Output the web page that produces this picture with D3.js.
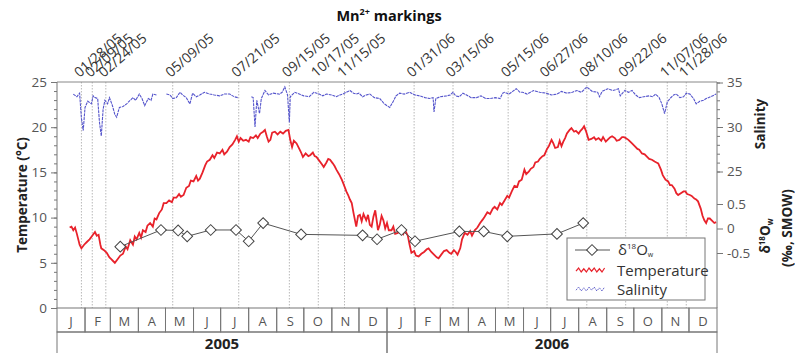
<!DOCTYPE html>
<html><head><meta charset="utf-8">
<script src="https://cdn.jsdelivr.net/npm/d3@7"></script>
<style>body{margin:0;background:#fff} text{font-family:"Open Sans",sans-serif}</style>
</head><body><svg id="c" width="795" height="353"></svg>
<script>
const months = ["J","F","M","A","M","J","J","A","S","O","N","D"];
const years = ["2005","2006"];
const tempTicks = [0,5,10,15,20,25];
const salTicks = [25,30,35];
const d18Ticks = [-0.5,0,0.5];
const markDates = ["2005-01-28","2005-02-09","2005-02-24","2005-05-09","2005-07-21","2005-09-15","2005-10-17","2005-11-15","2006-01-31","2006-03-15","2006-05-15","2006-06-27","2006-08-10","2006-09-22","2006-11-07","2006-11-28"];
const markLabels = ["01/28/05","02/09/05","02/24/05","05/09/05","07/21/05","09/15/05","10/17/05","11/15/05","01/31/06","03/15/06","05/15/06","06/27/06","08/10/06","09/22/06","11/07/06","11/28/06"];
const d18O = [["2005-03-12",-0.37],["2005-04-26",-0.03],["2005-05-15",-0.04],["2005-05-25",-0.16],["2005-06-20",-0.03],["2005-07-18",-0.03],["2005-08-01",-0.26],["2005-08-17",0.11],["2005-09-28",-0.12],["2005-12-05",-0.14],["2005-12-21",-0.22],["2006-01-17",-0.03],["2006-02-01",-0.26],["2006-03-22",-0.06],["2006-04-18",-0.06],["2006-05-14",-0.16],["2006-07-08",-0.11],["2006-08-06",0.11]];
const temperature = [
["2005-01-15",8.9],["2005-01-17",9.0],["2005-01-19",8.6],["2005-01-21",8.9],["2005-01-23",8.2],["2005-01-26",7.0],["2005-01-28",6.6],["2005-01-31",7.0],
["2005-02-03",7.3],["2005-02-06",7.6],["2005-02-09",8.0],["2005-02-12",8.4],["2005-02-14",8.0],["2005-02-16",8.1],["2005-02-18",7.0],["2005-02-19",6.6],["2005-02-22",6.4],["2005-02-25",6.1],["2005-02-28",5.6],
["2005-03-02",5.4],["2005-03-04",5.2],["2005-03-06",5.0],["2005-03-09",5.4],["2005-03-12",5.8],["2005-03-15",6.0],["2005-03-18",6.8],["2005-03-20",6.5],["2005-03-23",7.5],["2005-03-26",7.0],["2005-03-28",7.9],["2005-03-30",7.6],
["2005-04-02",8.3],["2005-04-04",7.8],["2005-04-06",8.6],["2005-04-09",8.4],["2005-04-11",9.1],["2005-04-14",9.4],["2005-04-17",9.0],["2005-04-19",9.9],["2005-04-21",9.8],["2005-04-24",10.5],["2005-04-27",10.9],["2005-04-29",11.6],
["2005-05-02",11.6],["2005-05-05",11.9],["2005-05-08",11.7],["2005-05-10",12.2],["2005-05-13",12.2],["2005-05-16",12.6],["2005-05-18",12.3],["2005-05-21",12.5],["2005-05-24",13.3],["2005-05-27",13.5],["2005-05-29",14.1],
["2005-06-01",14.0],["2005-06-04",14.6],["2005-06-06",14.1],["2005-06-08",14.3],["2005-06-11",15.0],["2005-06-14",15.8],["2005-06-16",16.2],["2005-06-19",16.4],["2005-06-22",16.9],["2005-06-24",16.6],["2005-06-27",17.2],["2005-06-30",17.1],
["2005-07-03",17.5],["2005-07-05",17.0],["2005-07-08",17.3],["2005-07-11",17.8],["2005-07-14",18.1],["2005-07-17",18.6],["2005-07-19",19.0],["2005-07-21",18.4],["2005-07-23",18.8],["2005-07-26",18.5],["2005-07-29",18.6],
["2005-08-01",18.4],["2005-08-03",18.9],["2005-08-06",18.8],["2005-08-09",19.1],["2005-08-11",18.8],["2005-08-14",19.3],["2005-08-17",19.5],["2005-08-19",19.7],["2005-08-21",19.0],["2005-08-23",18.4],["2005-08-25",18.6],["2005-08-27",19.4],["2005-08-30",19.5],
["2005-09-02",19.2],["2005-09-05",19.5],["2005-09-08",19.3],["2005-09-11",19.6],["2005-09-14",19.7],["2005-09-16",18.6],["2005-09-18",17.8],["2005-09-20",18.5],["2005-09-23",18.2],["2005-09-26",17.6],["2005-09-28",17.2],["2005-09-30",16.7],
["2005-10-03",17.1],["2005-10-06",16.8],["2005-10-08",16.9],["2005-10-11",17.2],["2005-10-13",16.8],["2005-10-15",16.7],["2005-10-18",16.3],["2005-10-21",15.9],["2005-10-23",15.6],["2005-10-26",16.1],["2005-10-28",16.5],["2005-10-30",16.4],
["2005-11-02",16.0],["2005-11-04",15.7],["2005-11-06",15.3],["2005-11-09",14.8],["2005-11-12",14.2],["2005-11-14",13.7],["2005-11-17",12.9],["2005-11-19",12.5],["2005-11-21",12.0],["2005-11-23",11.6],["2005-11-25",10.5],["2005-11-28",9.0],["2005-11-30",10.2],
["2005-12-02",10.3],["2005-12-04",9.6],["2005-12-06",10.4],["2005-12-09",9.7],["2005-12-11",10.3],["2005-12-13",9.2],["2005-12-15",9.0],["2005-12-17",10.1],["2005-12-19",10.8],["2005-12-21",9.4],["2005-12-22",8.6],["2005-12-24",9.2],["2005-12-26",10.2],["2005-12-28",9.7],["2005-12-30",8.8],
["2006-01-01",9.4],["2006-01-03",8.6],["2006-01-06",8.6],["2006-01-08",9.0],["2006-01-10",8.2],["2006-01-13",8.3],["2006-01-16",8.8],["2006-01-19",8.2],["2006-01-21",8.6],["2006-01-24",8.0],["2006-01-26",7.0],["2006-01-28",6.1],["2006-01-31",6.3],
["2006-02-02",5.8],["2006-02-05",5.7],["2006-02-08",6.0],["2006-02-11",6.2],["2006-02-14",6.5],["2006-02-16",6.6],["2006-02-19",6.2],["2006-02-22",5.9],["2006-02-25",5.6],["2006-02-27",5.5],
["2006-03-02",5.9],["2006-03-05",6.3],["2006-03-08",6.4],["2006-03-11",6.1],["2006-03-13",6.0],["2006-03-16",6.4],["2006-03-18",6.2],["2006-03-20",5.9],["2006-03-23",6.6],["2006-03-25",7.6],["2006-03-28",8.3],["2006-03-31",8.1],
["2006-04-03",8.5],["2006-04-05",8.0],["2006-04-08",8.6],["2006-04-11",8.9],["2006-04-14",9.4],["2006-04-17",9.8],["2006-04-19",10.1],["2006-04-22",10.6],["2006-04-25",10.4],["2006-04-28",11.0],["2006-04-30",11.2],
["2006-05-03",10.9],["2006-05-06",11.6],["2006-05-08",11.4],["2006-05-11",11.9],["2006-05-14",12.4],["2006-05-16",12.2],["2006-05-19",12.9],["2006-05-22",13.5],["2006-05-25",13.4],["2006-05-27",14.0],["2006-05-30",14.2],
["2006-06-02",15.3],["2006-06-04",14.8],["2006-06-07",15.1],["2006-06-09",15.4],["2006-06-12",15.6],["2006-06-14",16.1],["2006-06-17",16.2],["2006-06-19",16.5],["2006-06-22",16.8],["2006-06-24",16.9],["2006-06-27",17.6],["2006-06-29",17.9],
["2006-07-02",18.6],["2006-07-04",18.2],["2006-07-06",17.7],["2006-07-09",17.8],["2006-07-11",18.5],["2006-07-13",17.9],["2006-07-15",18.4],["2006-07-17",18.8],["2006-07-19",19.3],["2006-07-22",19.7],["2006-07-24",19.9],["2006-07-27",19.5],["2006-07-29",19.6],
["2006-08-01",19.3],["2006-08-03",19.6],["2006-08-05",19.8],["2006-08-07",20.1],["2006-08-09",19.6],["2006-08-12",18.6],["2006-08-15",18.7],["2006-08-18",18.9],["2006-08-20",18.6],["2006-08-23",18.8],["2006-08-26",18.5],["2006-08-28",18.9],["2006-08-31",18.4],
["2006-09-03",18.7],["2006-09-05",18.9],["2006-09-07",19.0],["2006-09-10",18.8],["2006-09-12",18.5],["2006-09-15",18.6],["2006-09-18",18.9],["2006-09-20",18.9],["2006-09-22",18.8],["2006-09-25",18.6],["2006-09-27",18.4],["2006-09-29",18.2],
["2006-10-02",17.9],["2006-10-05",17.6],["2006-10-07",17.5],["2006-10-10",17.1],["2006-10-13",17.0],["2006-10-16",16.7],["2006-10-18",16.5],["2006-10-21",16.4],["2006-10-24",16.2],["2006-10-26",16.1],["2006-10-28",16.0],["2006-10-31",15.3],
["2006-11-02",14.7],["2006-11-05",14.2],["2006-11-08",14.0],["2006-11-10",13.6],["2006-11-12",13.6],["2006-11-15",13.2],["2006-11-17",12.7],["2006-11-19",12.5],["2006-11-22",12.7],["2006-11-25",12.9],["2006-11-27",12.9],["2006-11-29",12.6],
["2006-12-02",12.5],["2006-12-04",12.4],["2006-12-07",12.1],["2006-12-09",12.0],["2006-12-11",11.8],["2006-12-14",11.0],["2006-12-16",10.2],["2006-12-18",9.7],["2006-12-20",9.4],["2006-12-22",9.9],["2006-12-24",9.9],["2006-12-27",9.6],["2006-12-29",9.4],["2006-12-31",9.5]];
const salinity = [
["2005-01-19",33.7],["2005-01-23",33.4],["2005-01-26",33.8],["2005-01-28",31.0],["2005-01-30",29.6],["2005-02-01",32.2],["2005-02-04",32.9],["2005-02-08",32.6],["2005-02-10",33.5],["2005-02-12",33.3],["2005-02-15",33.2],["2005-02-17",30.5],["2005-02-19",29.0],["2005-02-21",32.0],["2005-02-23",33.0],["2005-02-26",32.6],["2005-02-28",33.3],
["2005-03-03",32.5],["2005-03-06",31.4],["2005-03-08",31.1],["2005-03-11",32.2],["2005-03-15",32.3],["2005-03-19",32.6],["2005-03-22",32.9],["2005-03-26",33.3],["2005-03-29",33.0],["2005-04-02",33.7],["2005-04-05",33.2],["2005-04-08",32.4],["2005-04-12",33.2],["2005-04-15",33.0],["2005-04-17",33.7],["2005-04-21",33.6],["2005-04-26",null],
["2005-05-02",33.7],["2005-05-06",33.6],["2005-05-09",33.2],["2005-05-13",33.3],["2005-05-17",33.9],["2005-05-20",33.6],["2005-05-24",33.3],["2005-05-28",32.6],["2005-05-31",33.8],["2005-06-04",33.4],["2005-06-08",33.6],["2005-06-13",33.9],["2005-06-19",33.7],["2005-06-24",33.6],["2005-06-30",33.5],["2005-07-05",33.7],["2005-07-11",33.7],["2005-07-16",33.4],["2005-07-20",33.3],["2005-07-27",null],
["2005-08-04",33.4],["2005-08-06",33.3],["2005-08-08",30.0],["2005-08-10",33.0],["2005-08-13",31.5],["2005-08-15",33.2],["2005-08-19",34.1],["2005-08-23",33.6],["2005-08-28",33.8],["2005-09-04",33.7],["2005-09-07",33.9],["2005-09-10",34.5],["2005-09-13",33.6],["2005-09-15",30.5],["2005-09-16",33.4],["2005-09-21",33.9],["2005-09-26",33.7],
["2005-10-01",33.5],["2005-10-07",33.4],["2005-10-12",33.9],["2005-10-18",33.7],["2005-10-22",33.5],["2005-10-26",33.7],["2005-11-01",33.6],["2005-11-06",33.4],["2005-11-10",33.6],["2005-11-13",33.7],["2005-11-17",33.9],["2005-11-21",34.1],["2005-11-25",33.8],["2005-11-28",33.7],["2005-12-01",33.8],["2005-12-05",33.4],["2005-12-09",33.6],["2005-12-13",33.7],["2005-12-18",33.3],["2005-12-24",33.2],["2005-12-29",32.6],
["2006-01-04",32.2],["2006-01-08",32.9],["2006-01-11",33.5],["2006-01-15",33.8],["2006-01-20",33.7],["2006-01-26",33.9],["2006-02-01",33.6],["2006-02-06",33.5],["2006-02-12",33.3],["2006-02-17",33.2],["2006-02-21",33.3],["2006-02-22",31.7],["2006-02-24",33.2],["2006-03-01",33.4],["2006-03-08",33.5],["2006-03-12",33.6],["2006-03-15",33.9],["2006-03-18",33.5],["2006-03-22",33.4],["2006-03-26",33.8],["2006-03-30",33.6],
["2006-04-04",33.3],["2006-04-10",33.3],["2006-04-15",33.5],["2006-04-20",33.2],["2006-04-25",33.2],["2006-05-01",33.3],["2006-05-06",33.2],["2006-05-09",33.8],["2006-05-11",33.9],["2006-05-16",33.7],["2006-05-20",34.0],["2006-05-24",34.3],["2006-05-28",33.9],["2006-05-31",33.9],["2006-06-05",33.7],["2006-06-12",34.1],["2006-06-19",33.9],["2006-06-26",33.8],
["2006-07-02",33.6],["2006-07-08",33.7],["2006-07-13",34.0],["2006-07-19",33.8],["2006-07-25",33.9],["2006-07-30",34.1],["2006-08-04",33.9],["2006-08-10",34.5],["2006-08-16",34.0],["2006-08-22",33.9],["2006-08-24",33.4],["2006-08-27",34.0],["2006-09-02",34.3],["2006-09-08",34.1],["2006-09-14",34.3],["2006-09-16",33.5],["2006-09-21",34.1],["2006-09-25",33.9],["2006-09-29",34.1],
["2006-10-03",33.6],["2006-10-07",33.3],["2006-10-12",33.4],["2006-10-18",33.5],["2006-10-22",33.4],["2006-10-25",33.7],["2006-10-29",33.3],["2006-11-01",32.6],["2006-11-04",31.5],["2006-11-07",32.8],["2006-11-10",33.2],["2006-11-14",33.6],["2006-11-17",33.7],["2006-11-21",33.3],["2006-11-25",33.4],["2006-11-28",33.8],
["2006-12-02",33.7],["2006-12-06",33.2],["2006-12-09",32.6],["2006-12-13",32.9],["2006-12-17",33.0],["2006-12-20",33.2],["2006-12-25",33.4],["2006-12-31",33.7]];

const W = 795, H = 353, L = 57, R = 717, T = 82, B = 308;
const parse = d3.timeParse("%Y-%m-%d");
const svg = d3.select("#c");
const x = d3.scaleTime().domain([new Date(2005,0,1), new Date(2007,0,1)]).range([L, R]);
const yT = d3.scaleLinear().domain([0,25]).range([B, T]);
const yS = d3.scaleLinear().domain([25,35]).range([171.5, 82.5]);
const yD = d3.scaleLinear().domain([-0.5,0.5]).range([253, 204]);

// marking lines
svg.append("g").selectAll("line").data(markDates).join("line")
  .attr("x1", d => x(parse(d))).attr("x2", d => x(parse(d)))
  .attr("y1", T).attr("y2", B)
  .attr("stroke", "#b8b8b8").attr("stroke-width", 1).attr("stroke-dasharray", "1.5,1.5");
svg.append("g").selectAll("text").data(markDates).join("text")
  .attr("transform", d => `translate(${x(parse(d)) - 2},78) rotate(-41)`)
  .attr("font-size", 14).attr("fill", "#333")
  .text((d, i) => markLabels[i]);

// title
const title = svg.append("text").attr("x", 389).attr("y", 21).attr("text-anchor", "middle")
  .attr("font-size", 14.5).attr("font-weight", "bold").attr("fill", "#111");
title.append("tspan").text("Mn");
title.append("tspan").attr("dy", -6).attr("font-size", 9).text("2+");
title.append("tspan").attr("dy", 6).text(" markings");

// frame
svg.append("line").attr("x1", L).attr("x2", R).attr("y1", T).attr("y2", T).attr("stroke", "#888");
svg.append("line").attr("x1", L).attr("x2", L).attr("y1", T).attr("y2", B).attr("stroke", "#777");
svg.append("line").attr("x1", R).attr("x2", R).attr("y1", T).attr("y2", B).attr("stroke", "#777");

function styleAxis(g) {
  g.select(".domain").remove();
  g.selectAll(".tick line").attr("stroke", "#777");
  g.selectAll(".tick text").attr("fill", "#555").attr("font-size", 13.5).attr("font-family", "Open Sans");
}
svg.append("g").attr("transform", `translate(${L},0)`)
  .call(d3.axisLeft(yT).tickValues(d3.range(0, 26)).tickSize(3).tickFormat("")).call(styleAxis);
svg.append("g").attr("transform", `translate(${L},0)`)
  .call(d3.axisLeft(yT).tickValues(tempTicks).tickSize(6).tickPadding(4)).call(styleAxis);
svg.append("g").attr("transform", `translate(${R},0)`)
  .call(d3.axisRight(yS).tickValues(d3.range(25, 36)).tickSize(3).tickFormat("")).call(styleAxis);
svg.append("g").attr("transform", `translate(${R},0)`)
  .call(d3.axisRight(yS).tickValues(salTicks).tickSize(6).tickPadding(4)).call(styleAxis);
svg.append("g").attr("transform", `translate(${R},0)`)
  .call(d3.axisRight(yD).tickValues(d18Ticks).tickSize(6).tickPadding(4).tickFormat(d => d < 0 ? "-" + Math.abs(d) : String(d))).call(styleAxis);

// month / year table
const monthStarts = d3.timeMonths(new Date(2005,0,1), new Date(2007,0,1));
const mg = svg.append("g");
mg.selectAll("rect").data(monthStarts).join("rect")
  .attr("x", d => x(d)).attr("width", d => x(d3.timeMonth.offset(d, 1)) - x(d))
  .attr("y", B).attr("height", 24).attr("fill", "none").attr("stroke", "#777");
mg.selectAll("text").data(monthStarts).join("text")
  .attr("x", d => (x(d) + x(d3.timeMonth.offset(d, 1))) / 2).attr("y", B + 18)
  .attr("text-anchor", "middle").attr("font-size", 13).attr("fill", "#555")
  .text(d => months[d.getMonth()]);
const yearStarts = years.map(y => new Date(+y, 0, 1));
const yg = svg.append("g");
yg.selectAll("rect").data(yearStarts).join("rect")
  .attr("x", d => x(d)).attr("width", d => x(d3.timeYear.offset(d, 1)) - x(d))
  .attr("y", B + 24).attr("height", 30).attr("fill", "none").attr("stroke", "#777");
yg.selectAll("text").data(yearStarts).join("text")
  .attr("x", d => (x(d) + x(d3.timeYear.offset(d, 1))) / 2).attr("y", B + 41)
  .attr("text-anchor", "middle").attr("font-size", 15).attr("font-weight", "bold").attr("fill", "#222")
  .text((d, i) => years[i]);

// series
svg.append("path").datum(salinity)
  .attr("d", d3.line().defined(d => d[1] != null).x(d => x(parse(d[0]))).y(d => yS(d[1])))
  .attr("fill", "none").attr("stroke", "#5555cc").attr("stroke-width", 1.1).attr("stroke-dasharray", "3,0.8");
svg.append("path").datum(temperature)
  .attr("d", d3.line().x(d => x(parse(d[0]))).y(d => yT(d[1])))
  .attr("fill", "none").attr("stroke", "#e8222b").attr("stroke-width", 1.8);
svg.append("path").datum(d18O)
  .attr("d", d3.line().x(d => x(parse(d[0]))).y(d => yD(d[1])))
  .attr("fill", "none").attr("stroke", "#555").attr("stroke-width", 1);
const diamond = d3.symbol().type(d3.symbolSquare).size(58);
svg.append("g").selectAll("path").data(d18O).join("path")
  .attr("d", diamond)
  .attr("transform", d => `translate(${x(parse(d[0]))},${yD(d[1])}) rotate(45)`)
  .attr("fill", "#fff").attr("stroke", "#444").attr("stroke-width", 1);

// axis titles
svg.append("text").attr("transform", "translate(27,195) rotate(-90)").attr("text-anchor", "middle")
  .attr("font-size", 13.5).attr("font-weight", "bold").attr("fill", "#222").text("Temperature (°C)");
svg.append("text").attr("transform", "translate(765,124) rotate(-90)").attr("text-anchor", "middle")
  .attr("font-size", 13.5).attr("font-weight", "bold").attr("fill", "#222").text("Salinity");
const dl = svg.append("text").attr("transform", "translate(770,236) rotate(-90)").attr("text-anchor", "middle")
  .attr("font-size", 13.5).attr("font-weight", "bold").attr("fill", "#222");
dl.append("tspan").text("δ");
dl.append("tspan").attr("dy", -5).attr("font-size", 8).text("18");
dl.append("tspan").attr("dy", 5).text("O");
dl.append("tspan").attr("dy", 3).attr("font-size", 8).text("w");
svg.append("text").attr("transform", "translate(792,228) rotate(-90)").attr("text-anchor", "middle")
  .attr("font-size", 13.5).attr("font-weight", "bold").attr("fill", "#222").text("(‰, SMOW)");

// legend
const lg = svg.append("g");
lg.append("rect").attr("x", 567).attr("y", 238).attr("width", 138).attr("height", 62)
  .attr("fill", "#fff").attr("stroke", "#777");
lg.append("line").attr("x1", 575).attr("x2", 610).attr("y1", 250).attr("y2", 250).attr("stroke", "#555");
lg.append("path").attr("d", diamond).attr("transform", "translate(592,250) rotate(45)")
  .attr("fill", "#fff").attr("stroke", "#444");
function wave(x0, y0, n) {
  const pts = d3.range(n).map(i => [x0 + i * 2.6, y0 + (i % 2 ? -2 : 2) * (i % 3 === 0 ? 0.6 : 1)]);
  return d3.line()(pts);
}
lg.append("path").attr("d", wave(576, 270, 12)).attr("fill", "none").attr("stroke", "#e8222b").attr("stroke-width", 1.2);
lg.append("path").attr("d", wave(576, 289, 12)).attr("fill", "none").attr("stroke", "#6666cc").attr("stroke-width", 1).attr("stroke-dasharray", "2,1");
const t1 = lg.append("text").attr("x", 618).attr("y", 255).attr("font-size", 15).attr("fill", "#333");
t1.append("tspan").text("δ");
t1.append("tspan").attr("dy", -6).attr("font-size", 8).text("18");
t1.append("tspan").attr("dy", 6).text("O");
t1.append("tspan").attr("dy", 2).attr("font-size", 7).text("w");
lg.append("text").attr("x", 617).attr("y", 276).attr("font-size", 15).attr("fill", "#333").text("Temperature");
lg.append("text").attr("x", 617).attr("y", 295).attr("font-size", 15).attr("fill", "#333").text("Salinity");
</script></body></html>
